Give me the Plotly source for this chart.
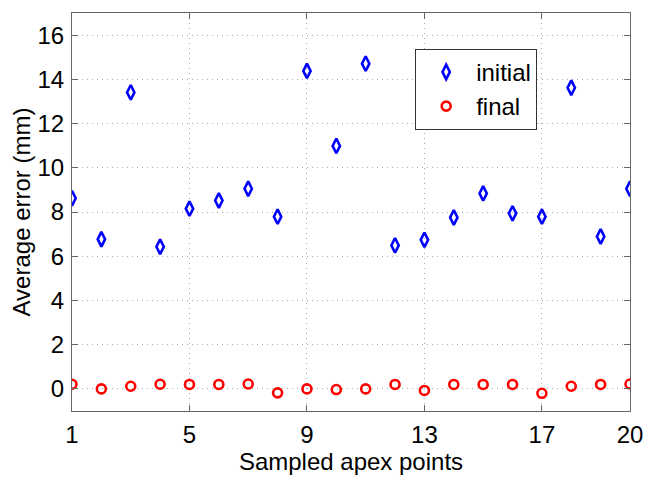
import plotly.graph_objects as go

points = list(range(1, 21))
initial = [8.62, 6.77, 13.41, 6.43, 8.15, 8.52, 9.05, 7.79, 14.38, 10.99,
           14.71, 6.49, 6.74, 7.75, 8.84, 7.94, 7.79, 13.62, 6.89, 9.05]
final = [0.21, 0.0, 0.12, 0.21, 0.2, 0.2, 0.22, -0.18, 0.0, -0.03,
         0.0, 0.2, -0.07, 0.2, 0.2, 0.2, -0.2, 0.12, 0.2, 0.22]
x_ticks = [1, 5, 9, 13, 17, 20]
y_ticks = list(range(0, 17, 2))

font = "Liberation Sans, Arial, Helvetica, sans-serif"

fig = go.Figure()
fig.add_trace(go.Scatter(
    x=points, y=initial, mode="markers", name="initial",
    marker=dict(symbol="diamond-tall-open", size=10.5, color="#0000ff",
                line=dict(width=2.6, color="#0000ff")),
))
fig.add_trace(go.Scatter(
    x=points, y=final, mode="markers", name="final",
    marker=dict(symbol="circle-open", size=9, color="#ff0000",
                line=dict(width=2.6, color="#ff0000")),
))

axis_common = dict(
    showline=True, linecolor="#666666", linewidth=1, mirror="ticks",
    ticks="inside", ticklen=6, tickcolor="#666666",
    showgrid=True, gridcolor="#aaaaaa", griddash="1px,4px", gridwidth=1,
    zeroline=False, automargin=False,
    tickfont=dict(size=24, color="black", family=font),
)

fig.update_xaxes(range=[1, 20], tickvals=x_ticks, ticklabelstandoff=2,
                 title=dict(text="Sampled apex points", font=dict(size=24, color="black", family=font), standoff=0),
                 **axis_common)
fig.update_yaxes(range=[-1, 17], tickvals=y_ticks, ticklabelstandoff=2,
                 title=dict(text="Average error (mm)", font=dict(size=24, color="black", family=font), standoff=6),
                 **axis_common)

# page body adds an 8px offset, so margins are shifted to compensate
fig.update_layout(
    width=656, height=480,
    margin=dict(l=64, r=34, t=5, b=77),
    plot_bgcolor="white", paper_bgcolor="white",
    font=dict(family=font, color="black"),
    legend=dict(x=0.615, y=0.91, xanchor="left", yanchor="top",
                bgcolor="white", bordercolor="#333333", borderwidth=1,
                itemwidth=50, tracegroupgap=0,
                font=dict(size=24, color="black", family=font)),
)

fig.write_html("out.html")
